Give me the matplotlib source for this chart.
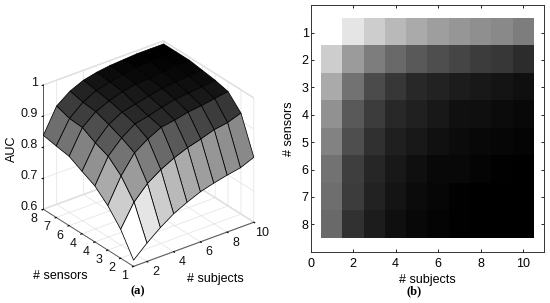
import numpy as np
import matplotlib
matplotlib.use("Agg")
import matplotlib.pyplot as plt
from mpl_toolkits.mplot3d import proj3d

plt.rcParams['font.family'] = ['Liberation Sans', 'DejaVu Sans']

subjects = np.arange(1, 11)
sensors = np.arange(1, 9)
auc = np.array([
    [.620, .659, .693, .722, .743, .761, .773, .783, .791, .809],
    [.693, .765, .809, .838, .860, .877, .889, .903, .910, .925],
    [.743, .823, .881, .910, .932, .939, .949, .954, .961, .968],
    [.780, .860, .903, .932, .942, .954, .964, .968, .973, .978],
    [.801, .877, .920, .944, .954, .964, .973, .978, .981, .984],
    [.823, .900, .935, .954, .968, .976, .978, .984, .987, .990],
    [.830, .903, .939, .961, .973, .981, .986, .990, .990, .990],
    [.838, .917, .949, .968, .978, .984, .987, .990, .990, .990],
])
x_ticks_3d = [2, 4, 6, 8, 10]
y_ticks_3d = [1, 2, 3, 4, 5, 6, 7, 8]
y_labels_3d = ['1', '2', '3', '4', '4', '6', '7', '8']
z_ticks = [0.6, 0.7, 0.8, 0.9, 1.0]
z_labels = ['0.6', '0.7', '0.8', '0.9', '1']
x_ticks_2d = [0, 2, 4, 6, 8, 10]
FS = 9
W, H = 550, 303
fig = plt.figure(figsize=(W/100, H/100), dpi=100)

# (a) surface
ax = fig.add_axes([-0.002, -0.01, 0.53, 0.98], projection='3d', proj_type='ortho')
ax.view_init(elev=28.8, azim=232.7)
ax.set_box_aspect((150.8, 148.5, 141.5), zoom=0.85)
X, Y = np.meshgrid(subjects, sensors)
norm = plt.Normalize(auc.min(), auc.max())
colors = plt.cm.gray_r(norm(auc))
ax.plot_surface(X, Y, auc, facecolors=colors, rstride=1, cstride=1, shade=False,
                edgecolor='#000000', linewidth=0.55, antialiased=True)
ax.set_xlim(1, 10); ax.set_ylim(1, 8); ax.set_zlim(0.6, 1)
ax.set_xticks(x_ticks_3d); ax.set_yticks(y_ticks_3d); ax.set_zticks(z_ticks)
ax.set_xticklabels([]); ax.set_yticklabels([]); ax.set_zticklabels([])
for a in (ax.xaxis, ax.yaxis, ax.zaxis):
    a.set_pane_color((1, 1, 1, 1))
    a.pane.set_edgecolor('#dddddd')
    a._axinfo['grid'].update(color='#e2e2e2', linewidth=0.5)
    a._axinfo['tick'].update(inward_factor=0.12, outward_factor=0.0)
    a.line.set_color('#555555')
    a.line.set_linewidth(0.7)
ax.zaxis.set_ticks_position('upper')
fig.canvas.draw()

def label3d(x, y, z, s, dx, dy, ha='center'):
    xp, yp, _ = proj3d.proj_transform(x, y, z, ax.get_proj())
    ax.annotate(s, xy=(xp, yp), xytext=(dx, dy), textcoords='offset pixels',
                fontsize=FS, ha=ha, va='center', color='#111111')

for v in x_ticks_3d:
    label3d(v, 1, 0.6, str(v), 8.5, -10.5)
for v, s in zip(y_ticks_3d, y_labels_3d):
    label3d(1, v, 0.6, s, -9.0, -10.0)
for v, s in zip(z_ticks, z_labels):
    label3d(1, 8, v, s, -5.3, 2.0, ha='right')

fig.text(60/W, 1-275.7/H, '# sensors', fontsize=FS, ha='center', va='center')
fig.text(215/W, 1-278.7/H, '# subjects', fontsize=FS, ha='center', va='center')
fig.text(12/W, 1-149/H, 'AUC', fontsize=FS, rotation=90, ha='center', va='center')
fig.text(138/W, 1-291/H, '(a)', fontsize=FS, family='Liberation Serif', weight='bold', ha='center', va='center')

# (b) heat map
ax2 = fig.add_axes([310.7/W, 1-251.7/H, 233.6/W, 246.5/H])
ax2.imshow(auc, cmap='gray_r', aspect='auto', extent=(0.5, 10.5, 8.5, 0.5), interpolation='nearest')
ax2.set_xlim(0, 11); ax2.set_ylim(9, 0)
ax2.set_xticks(x_ticks_2d); ax2.set_yticks(sensors)
ax2.tick_params(top=True, right=True, direction='in', length=2.5, width=0.6, labelsize=FS)
ax2.tick_params(axis='x', pad=4.5)
ax2.tick_params(axis='y', pad=1.5)
for s in ax2.spines.values():
    s.set_linewidth(0.7); s.set_color('#333333')
ax2.set_xlabel('# subjects', fontsize=FS, labelpad=3)
ax2.yaxis.set_label_coords(-0.068, 0.5)
ax2.set_ylabel('# sensors', fontsize=FS)
fig.text(414/W, 1-291/H, '(b)', fontsize=FS, family='Liberation Serif', weight='bold', ha='center', va='center')

fig.savefig('out.png', dpi=100)
